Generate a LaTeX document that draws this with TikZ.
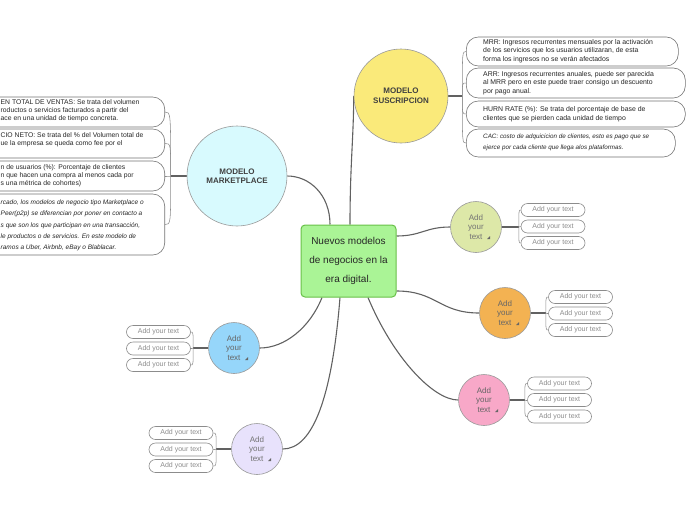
\documentclass[tikz,border=0pt]{standalone}
\usepackage{fontspec}
\setmainfont{Liberation Sans}
\usetikzlibrary{backgrounds}
\definecolor{cgreen}{RGB}{170,244,150}
\definecolor{cgreenb}{RGB}{104,192,72}
\definecolor{csus}{RGB}{250,234,122}
\definecolor{cmk}{RGB}{216,250,254}
\definecolor{cg}{RGB}{221,232,168}
\definecolor{co}{RGB}{243,178,82}
\definecolor{cp}{RGB}{248,168,200}
\definecolor{cb}{RGB}{150,214,250}
\definecolor{cl}{RGB}{232,226,252}
\newcommand{\rzmark}[1]{\fill[black!60] ([shift={(11pt,-12pt)}]#1) -- ++(3,0) -- ++(0,-3) -- cycle;}
\tikzset{
 conn/.style={draw=black!62, line width=1.1pt},
 br/.style={draw=black!45, line width=0.55pt},
 topic/.style={circle, draw=black!40, line width=0.6pt, inner sep=0pt, align=center, text=black!75, font=\fontsize{8}{10}\selectfont\bfseries},
 subtopic/.style={circle, draw=black!40, line width=0.6pt, minimum size=51pt, inner sep=0pt, align=center, text=black!55, font=\fontsize{8}{9.5}\selectfont},
 leaf/.style={draw=black!45, line width=0.6pt, rounded corners=6.5pt, minimum width=64pt, minimum height=13pt, inner sep=0pt, text=black!45, font=\fontsize{7}{8}\selectfont, fill=white},
 notebox/.style={draw=black!55, line width=0.6pt, rounded corners=12pt, inner sep=0pt, fill=white},
 notetext/.style={inner sep=0pt, align=left, text=black!85, font=\fontsize{6.9}{8.7}\selectfont},
 lnotetext/.style={notetext, font=\fontsize{6.8}{8}\selectfont},
 hand/.style={inner sep=0pt, align=left, text=black!85, font=\fontsize{6.3}{11.2}\selectfont\itshape},
}
\begin{document}
\begin{tikzpicture}[x=1pt,y=-1pt]
\useasboundingbox (0,0) rectangle (696,520);

% central node
\node[draw=cgreenb, fill=cgreen, line width=1pt, rounded corners=4pt, minimum width=95pt, minimum height=72pt, inner sep=0pt, align=center, font=\fontsize{10}{19}\selectfont, text=black!85] (c) at (348.5,261) {Nuevos modelos\\de negocios en la\\era digital.};

% main topics
\node[topic, fill=csus, minimum size=94pt] (sus) at (401,96) {MODELO\\SUSCRIPCION};
\node[topic, fill=cmk, minimum size=100pt, font=\fontsize{8}{9.5}\selectfont\bfseries] (mk) at (237,176) {MODELO\\MARKETPLACE};

% subtopics
\node[subtopic, fill=cg] (gr) at (476,227) {Add\\your\\text};
\node[subtopic, fill=co, text=black!60] (or) at (505,313) {Add\\your\\text};
\node[subtopic, fill=cp, text=black!60] (pk) at (484,400) {Add\\your\\text};
\node[subtopic, fill=cb, text=black!60] (bl) at (234,348) {Add\\your\\text};
\node[subtopic, fill=cl] (lv) at (257,449) {Add\\your\\text};
\rzmark{gr.center}
\rzmark{or.center}
\rzmark{pk.center}
\rzmark{bl.center}
\rzmark{lv.center}

% suscripcion notes
\node[notebox, minimum width=212pt, minimum height=29pt, anchor=west] (r1) at (466,51.5) {};
\node[notetext, anchor=west] (r1t) at (483,51) {MRR: Ingresos recurrentes mensuales por la activación\\de los servicios que los usuarios utilizaran, de esta\\forma los ingresos no se verán afectados};
\node[notebox, minimum width=219pt, minimum height=30pt, anchor=west] (r2) at (466,83) {};
\node[notetext, anchor=west] (r2t) at (483,83) {ARR: Ingresos recurrentes anuales, puede ser parecida\\al MRR pero en este puede traer consigo un descuento\\por pago anual.};
\node[notebox, minimum width=219pt, minimum height=26pt, anchor=west] (r3) at (466,114) {};
\node[notetext, anchor=west] (r3t) at (483,114) {HURN RATE (\%): Se trata del porcentaje de base de\\clientes que se pierden cada unidad de tiempo};
\node[notebox, minimum width=209pt, minimum height=28pt, anchor=west] (r4) at (466,143) {};
\node[hand, anchor=west] (r4t) at (483,142.5) {CAC: costo de adquicicion de clientes, esto es pago que se\\ejerce por cada cliente que llega alos plataformas.};

% marketplace notes
\node[notebox, minimum width=260pt, minimum height=30pt, anchor=east] (l1) at (165,112) {};
\node[lnotetext, anchor=west] (l1t) at (0.5,111) {EN TOTAL DE VENTAS: Se trata del volumen\\roductos o servicios facturados a partir del\\ace en una unidad de tiempo concreta.};
\node[notebox, minimum width=260pt, minimum height=29pt, anchor=east] (l2) at (165,143.5) {};
\node[lnotetext, anchor=west] (l2t) at (0.5,140) {CIO NETO: Se trata del \% del Volumen total de\\ue la empresa se queda como fee por el};
\node[notebox, minimum width=260pt, minimum height=30pt, anchor=east] (l3) at (165,176) {};
\node[lnotetext, anchor=west] (l3t) at (0.5,176) {n de usuarios (\%): Porcentaje de clientes\\n que hacen una compra al menos cada por\\s una métrica de cohortes)};
\node[notebox, minimum width=260pt, minimum height=61pt, anchor=east] (l4) at (165,224.5) {};
\node[hand, font=\fontsize{6.5}{11.2}\selectfont\itshape, anchor=west] (l4t) at (0.5,225.5) {rcado, los modelos de negocio tipo Marketplace o\\Peer(p2p) se diferencian por poner en contacto a\\s que son los que participan en una transacción,\\le productos o de servicios. En este modelo de\\ramos a Uber, Airbnb, eBay o Blablacar.};

% leaves
\node[leaf] (g1) at (553,210) {Add your text};
\node[leaf] (g2) at (553,226.5) {Add your text};
\node[leaf] (g3) at (553,243) {Add your text};
\node[leaf] (o1) at (580.5,297) {Add your text};
\node[leaf] (o2) at (580.5,313.5) {Add your text};
\node[leaf] (o3) at (580.5,330) {Add your text};
\node[leaf] (p1) at (559.5,383.5) {Add your text};
\node[leaf] (p2) at (559.5,400) {Add your text};
\node[leaf] (p3) at (559.5,416.5) {Add your text};
\node[leaf] (b1) at (158.5,332) {Add your text};
\node[leaf] (b2) at (158.5,348.5) {Add your text};
\node[leaf] (b3) at (158.5,365) {Add your text};
\node[leaf] (v1) at (181,433) {Add your text};
\node[leaf] (v2) at (181,449.5) {Add your text};
\node[leaf] (v3) at (181,466) {Add your text};

\begin{scope}[on background layer]
 % main connectors
 \draw[conn] (mk.east) .. controls +(22,0) and +(0,-30) .. ([xshift=-18.5pt]c.north);
 \draw[conn] ([xshift=1.5pt]c.north) .. controls +(0,-60) and +(0,40) .. (sus.west);
 \draw[conn] ([yshift=25pt]c.east) .. controls +(25,0) and +(-25,0) .. (gr.west);
 \draw[conn] ([yshift=-30pt]c.east) .. controls +(40,0) and +(-40,0) .. (or.west);
 \draw[conn] ([xshift=19.5pt]c.south) .. controls +(25,60) and +(-25,0) .. (pk.west);
 \draw[conn] ([xshift=-26.5pt]c.south) .. controls +(-12,30) and +(25,0) .. (bl.east);
 \draw[conn] ([xshift=-8.5pt]c.south) .. controls +(-8,100) and +(30,0) .. (lv.east);

 % branch points
 \coordinate (sb) at ([xshift=14pt]sus.east);
 \coordinate (mb) at ([xshift=-16pt]mk.west);
 \coordinate (gb) at ([xshift=17pt]gr.east);
 \coordinate (ob) at ([xshift=15pt]or.east);
 \coordinate (pb) at ([xshift=15pt]pk.east);
 \coordinate (bb) at ([xshift=-15pt]bl.west);
 \coordinate (vb) at ([xshift=-15pt]lv.west);
 \draw[conn] (sus.east) -- (sb);
 \draw[conn] (mk.west) -- (mb);
 \draw[conn] (gr.east) -- (gb);
 \draw[conn] (or.east) -- (ob);
 \draw[conn] (pk.east) -- (pb);
 \draw[conn] (bl.west) -- (bb);
 \draw[conn] (lv.west) -- (vb);

 % brackets
 \foreach \n in {r1,r2,r3,r4} \draw[br] (sb) .. controls (sb |- \n.west) .. (\n.west);
 \foreach \n in {l1,l2,l3,l4} \draw[br] (mb) .. controls (mb |- \n.east) .. (\n.east);
 \foreach \n in {g1,g2,g3} \draw[br] (gb) .. controls (gb |- \n.west) .. (\n.west);
 \foreach \n in {o1,o2,o3} \draw[br] (ob) .. controls (ob |- \n.west) .. (\n.west);
 \foreach \n in {p1,p2,p3} \draw[br] (pb) .. controls (pb |- \n.west) .. (\n.west);
 \foreach \n in {b1,b2,b3} \draw[br] (bb) .. controls (bb |- \n.east) .. (\n.east);
 \foreach \n in {v1,v2,v3} \draw[br] (vb) .. controls (vb |- \n.east) .. (\n.east);
\end{scope}
\end{tikzpicture}
\end{document}
